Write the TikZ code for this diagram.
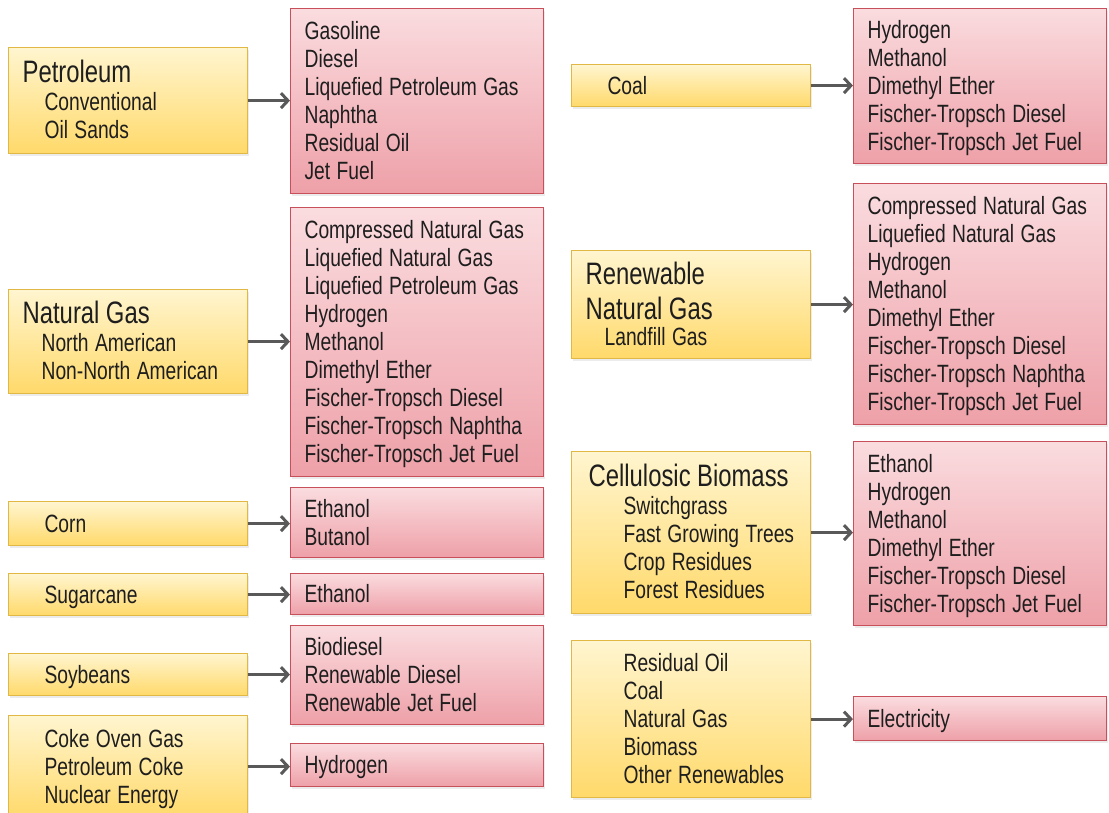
\documentclass[tikz,border=0pt]{standalone}
\usepackage{fontspec}
\usepackage{graphicx}
\setmainfont{Liberation Sans}
\usetikzlibrary{arrows.meta}
\usetikzlibrary{shadows}
\tikzset{>={Straight Barb[length=7pt,width=15pt]}}

\definecolor{srctop}{HTML}{FFF5CF}
\definecolor{srcbot}{HTML}{FFD96A}
\definecolor{srcline}{HTML}{E2B845}
\definecolor{prodtop}{HTML}{FADCDF}
\definecolor{prodbot}{HTML}{EEA0A8}
\definecolor{prodline}{HTML}{C8505A}
\definecolor{flowgray}{HTML}{595959}
\definecolor{txt}{HTML}{1E1E1E}

% narrow lettering: one tabular, squeezed sideways
\newcommand{\stack}[1]{\scalebox{0.77}[1]{\begin{tabular}{@{}l@{}}#1\\[-6pt]\end{tabular}}}
\newcommand{\ttl}[1]{{\fontsize{31}{32}\selectfont #1}}
\newcommand{\ind}[1]{\hspace*{#1pt}}

\tikzset{
  src/.style={draw=srcline, line width=1.2pt, top color=srctop, bottom color=srcbot,
    anchor=north west, inner xsep=14pt, text width=211pt, text=txt,
    font=\fontsize{25}{28}\selectfont,
    drop shadow={shadow xshift=1pt, shadow yshift=-2pt, opacity=0.15}},
  prod/.style={draw=prodline, line width=1.2pt, top color=prodtop, bottom color=prodbot,
    anchor=north west, inner xsep=14pt, text width=225pt, text=txt,
    font=\fontsize{25}{28}\selectfont,
    drop shadow={shadow xshift=1pt, shadow yshift=-2pt, opacity=0.15}},
  flow/.style={->, draw=flowgray, line width=3pt}
}

\begin{document}
\begin{tikzpicture}[x=1pt, y=-1pt]
    \useasboundingbox (0,0) rectangle (1109,813);
    % left column, sources
    \node (petro) at (8,47) [src, minimum height=106pt] {\stack{\ttl{Petroleum}\\ \ind{28.5}Conventional\\ \ind{28.5}Oil Sands}};
    \node (natgas) at (8,289) [src, minimum height=104pt] {\stack{\ttl{Natural Gas}\\ \ind{24.7}North American\\ \ind{24.7}Non-North American}};
    \node (corn) at (8,501) [src, minimum height=44pt] {\stack{\ind{28.5}Corn}};
    \node (sugar) at (8,573) [src, minimum height=42pt] {\stack{\ind{28.5}Sugarcane}};
    \node (soy) at (8,653) [src, minimum height=42pt] {\stack{\ind{28.5}Soybeans}};
    \node (coke) at (8,715) [src, minimum height=102pt] {\stack{\ind{28.5}Coke Oven Gas\\ \ind{28.5}Petroleum Coke\\ \ind{28.5}Nuclear Energy}};
    % left column, products
    \node (petrop) at (290,8) [prod, minimum height=185pt] {\stack{Gasoline\\ Diesel\\ Liquefied Petroleum Gas\\ Naphtha\\ Residual Oil\\ Jet Fuel}};
    \node (natgasp) at (290,207) [prod, minimum height=269pt] {\stack{Compressed Natural Gas\\ Liquefied Natural Gas\\ Liquefied Petroleum Gas\\ Hydrogen\\ Methanol\\ Dimethyl Ether\\ Fischer-Tropsch Diesel\\ Fischer-Tropsch Naphtha\\ Fischer-Tropsch Jet Fuel}};
    \node (cornp) at (290,487) [prod, minimum height=70pt] {\stack{Ethanol\\ Butanol}};
    \node (sugarp) at (290,573) [prod, minimum height=41pt] {\stack{Ethanol}};
    \node (soyp) at (290,625) [prod, minimum height=99pt] {\stack{Biodiesel\\ Renewable Diesel\\ Renewable Jet Fuel}};
    \node (cokep) at (290,743) [prod, minimum height=43pt] {\stack{Hydrogen}};
    % right column, sources
    \node (coal) at (571,64) [src, minimum height=42pt] {\stack{\ind{28.5}Coal}};
    \node (rng) at (571,250) [src, minimum height=108pt] {\stack{\ttl{Renewable}\\[4pt] \ttl{Natural Gas}\\[-2pt] \ind{24.7}Landfill Gas}};
    \node (cell) at (571,451) [src, minimum height=162pt] {\stack{\ind{3.9}\ttl{Cellulosic Biomass}\\ \ind{49.4}Switchgrass\\ \ind{49.4}Fast Growing Trees\\ \ind{49.4}Crop Residues\\ \ind{49.4}Forest Residues}};
    \node (elec) at (571,640) [src, minimum height=157pt] {\stack{\ind{49.4}Residual Oil\\ \ind{49.4}Coal\\ \ind{49.4}Natural Gas\\ \ind{49.4}Biomass\\ \ind{49.4}Other Renewables}};
    % right column, products
    \node (coalp) at (853,8) [prod, minimum height=155pt] {\stack{Hydrogen\\ Methanol\\ Dimethyl Ether\\ Fischer-Tropsch Diesel\\ Fischer-Tropsch Jet Fuel}};
    \node (rngp) at (853,183) [prod, minimum height=241pt] {\stack{Compressed Natural Gas\\ Liquefied Natural Gas\\ Hydrogen\\ Methanol\\ Dimethyl Ether\\ Fischer-Tropsch Diesel\\ Fischer-Tropsch Naphtha\\ Fischer-Tropsch Jet Fuel}};
    \node (cellp) at (853,441) [prod, minimum height=184pt] {\stack{Ethanol\\ Hydrogen\\ Methanol\\ Dimethyl Ether\\ Fischer-Tropsch Diesel\\ Fischer-Tropsch Jet Fuel}};
    \node (elecp) at (853,696) [prod, minimum height=44pt] {\stack{Electricity}};

    \draw [flow] (petro.east) -- (petro.east -| petrop.west);
    \draw [flow] (natgas.east) -- (natgas.east -| natgasp.west);
    \draw [flow] (corn.east) -- (corn.east -| cornp.west);
    \draw [flow] (sugar.east) -- (sugar.east -| sugarp.west);
    \draw [flow] (soy.east) -- (soy.east -| soyp.west);
    \draw [flow] (coke.east) -- (coke.east -| cokep.west);
    \draw [flow] (coal.east) -- (coal.east -| coalp.west);
    \draw [flow] (rng.east) -- (rng.east -| rngp.west);
    \draw [flow] (cell.east) -- (cell.east -| cellp.west);
    \draw [flow] (elec.east) -- (elec.east -| elecp.west);
\end{tikzpicture}
\end{document}
